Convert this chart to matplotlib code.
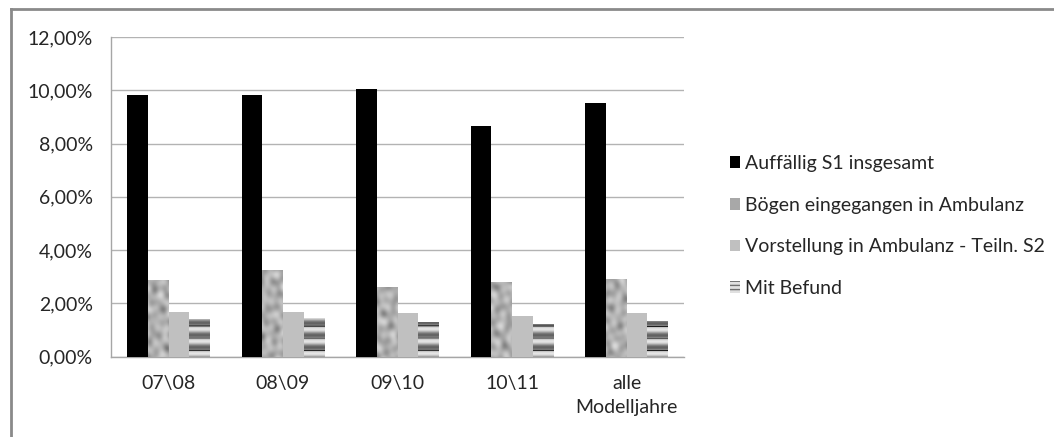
import numpy as np
import matplotlib
matplotlib.use("Agg")
import matplotlib.pyplot as plt
from matplotlib.patches import Patch
from matplotlib.lines import Line2D
from matplotlib.ticker import FuncFormatter, MultipleLocator

# ---- data (percent) ----
categories = ["07\\08", "08\\09", "09\\10", "10\\11", "alle\nModelljahre"]
auffaellig_s1 = [9.82, 9.82, 10.05, 8.65, 9.52]
boegen_ambulanz = [2.88, 3.27, 2.63, 2.82, 2.92]
vorstellung_s2 = [1.69, 1.69, 1.64, 1.53, 1.65]
mit_befund = [1.40, 1.45, 1.32, 1.22, 1.35]
series_labels = [
    "Auffällig S1 insgesamt",
    "Bögen eingegangen in Ambulanz",
    "Vorstellung in Ambulanz - Teiln. S2",
    "Mit Befund",
]

W, H, DPI = 1054, 437, 100
FS = 14.0
plt.rcParams["font.family"] = ["Lato", "DejaVu Sans"]

fig = plt.figure(figsize=(W / DPI, H / DPI), dpi=DPI)
ax = fig.add_axes([111 / W, 1 - 356.7 / H, (684 - 111) / W, (356.7 - 37) / H])

x = np.arange(len(categories))
bw = 0.18
offsets = np.array([-1.5, -0.5, 0.5, 1.5]) * bw

b1 = ax.bar(x + offsets[0], auffaellig_s1, bw, color="#000000", zorder=3)
b2 = ax.bar(x + offsets[1], boegen_ambulanz, bw, color="#a0a0a0", zorder=3)
b3 = ax.bar(x + offsets[2], vorstellung_s2, bw, color="#c0c0c0", zorder=3)
b4 = ax.bar(x + offsets[3], mit_befund, bw, color="#d8d8d8", zorder=3)

ax.set_xlim(-0.5, len(categories) - 0.5)
ax.set_ylim(0, 12)

# ---- fill textures, built on the axes pixel grid ----
nx, ny = 573, 320
px, py = np.meshgrid(np.arange(nx), np.arange(ny)[::-1])

# marble-like mottling for the "Bögen" series
waves = [
    (0.31, 0.17, 0.0), (-0.22, 0.29, 1.3), (0.41, -0.12, 2.1),
    (0.13, 0.44, 0.7), (-0.37, -0.26, 2.9), (0.55, 0.33, 4.0),
    (0.19, -0.51, 5.2), (-0.6, 0.08, 0.4),
]
marble = np.zeros((ny, nx))
for fx, fy, ph in waves:
    marble += np.sin(fx * px + fy * py + ph + 0.8 * np.sin(0.09 * px - 0.07 * py))
marble = (marble - marble.min()) / (marble.max() - marble.min())
marble = 0.42 + 0.46 * marble ** 0.8

# horizontal stripes for the "Mit Befund" series
period = 12.0
phase = (py % period) / period
stripes = 0.64 + 0.26 * np.sin(2 * np.pi * phase)
dark = np.abs(phase - 0.5) < 0.07
stripes = np.where(dark, np.where((py // period) % 2 == 0, 0.12, 0.35), stripes)

extent = (-0.5, len(categories) - 0.5, 0, 12)
for patches, tex in ((b2, marble), (b4, stripes)):
    for p in patches:
        im = ax.imshow(tex, cmap="gray", vmin=0, vmax=1, extent=extent,
                       aspect="auto", interpolation="bilinear", zorder=4)
        im.set_clip_path(p)

# ---- axes styling ----
ax.yaxis.set_major_locator(MultipleLocator(2))
ax.yaxis.set_major_formatter(FuncFormatter(lambda v, _: f"{v:.2f}".replace(".", ",") + "%"))
ax.grid(axis="y", color="#b3b3b3", linewidth=1.0, zorder=0)
ax.set_axisbelow(True)
for s in ("top", "right"):
    ax.spines[s].set_visible(False)
for s in ("left", "bottom"):
    ax.spines[s].set_color("#a6a6a6")
    ax.spines[s].set_linewidth(1.0)
ax.set_xticks(x)
ax.set_xticklabels(categories, linespacing=1.45)
ax.tick_params(axis="x", length=0, pad=13.5, labelsize=FS, labelcolor="#262626")
ax.tick_params(axis="y", length=0, pad=13, labelsize=FS, labelcolor="#262626")

# ---- legend ----
handles = [
    Patch(facecolor="#000000", edgecolor="none"),
    Patch(facecolor="#a8a8a8", edgecolor="none"),
    Patch(facecolor="#c0c0c0", edgecolor="none"),
    Patch(facecolor="#e0e0e0", edgecolor="#6e6e6e", hatch="----", linewidth=0),
]
fig.legend(handles, series_labels, loc="center left",
           bbox_to_anchor=(712 / W, 1 - 226 / H), frameon=False,
           fontsize=FS, handlelength=0.55, handleheight=0.55,
           handletextpad=0.25, labelspacing=1.27, labelcolor="#262626")

# ---- chart frame ----
fig.add_artist(Line2D([10.5 / W, 1], [1 - 8.5 / H, 1 - 8.5 / H],
                      transform=fig.transFigure, color="#8a8a8a", lw=2))
fig.add_artist(Line2D([10.5 / W, 10.5 / W], [0, 1 - 8.5 / H],
                      transform=fig.transFigure, color="#8a8a8a", lw=2))

fig.savefig("out.png", dpi=DPI, facecolor="white")
